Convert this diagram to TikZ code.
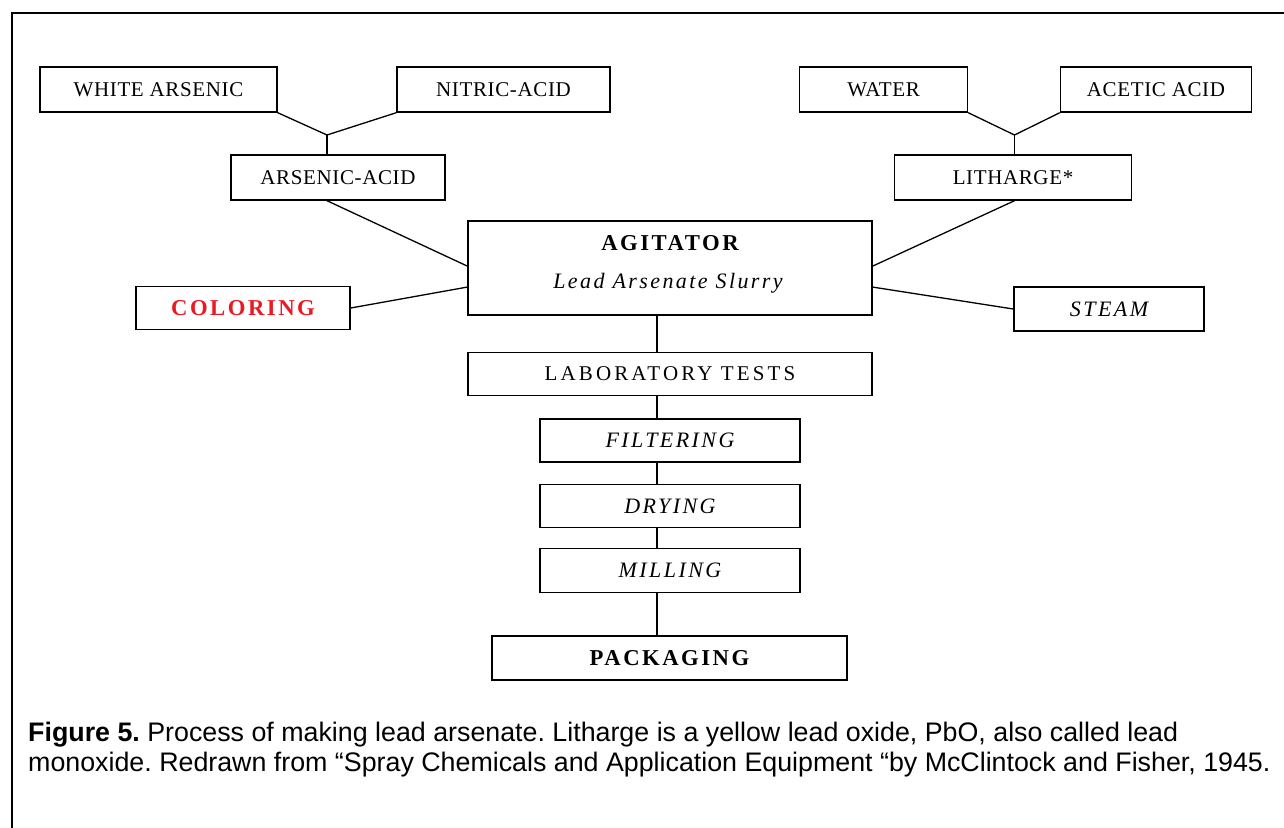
\documentclass[tikz,border=0pt]{standalone}
\usepackage{fontspec}
\setmainfont{Liberation Serif}
\newfontfamily\capfont{Liberation Sans}
\usetikzlibrary{calc}
\definecolor{colred}{RGB}{235,25,35}
\begin{document}
\begin{tikzpicture}[x=1pt,y=-1pt,
  box/.style={draw, line width=1.4pt, inner sep=0pt, anchor=center},
  reg/.style={font=\fontsize{21}{25}\selectfont\addfontfeature{LetterSpace=3}},
  regw/.style={font=\fontsize{21}{25}\selectfont\addfontfeature{LetterSpace=15}},
  bld/.style={font=\fontsize{22.7}{27}\selectfont\bfseries\addfontfeature{LetterSpace=11}},
  ital/.style={font=\fontsize{22}{26}\selectfont\itshape\addfontfeature{LetterSpace=11}},
  conn/.style={line width=1.3pt},
  captxt/.style={anchor=base west, inner sep=0pt, font=\capfont\fontsize{26.8}{30}\selectfont\frenchspacing}]
\useasboundingbox (0,0) rectangle (1284,827);
\fill[white] (0,0) rectangle (1284,827);
\clip (0,0) rectangle (1284,827);
\draw[line width=2.4pt] (12,13) rectangle (1310,860);

% top row
\node[box, reg, minimum width=237pt, minimum height=45pt] (wa) at (158.5,89.5) {WHITE ARSENIC};
\node[box, reg, minimum width=213pt, minimum height=45pt] (na) at (503.5,89.5) {NITRIC-ACID};
\node[box, reg, minimum width=214pt, minimum height=45pt] (aa) at (338,177.5) {ARSENIC-ACID};
\node[box, reg, minimum width=168pt, minimum height=45pt] (wt) at (883.5,89.5) {WATER};
\node[box, reg, minimum width=191pt, minimum height=45pt] (ac) at (1156,89.5) {ACETIC ACID};
\node[box, reg, minimum width=237pt, minimum height=45pt] (li) at (1013,177.5) {LITHARGE*};

% agitator
\node[box, minimum width=404pt, minimum height=94pt] (ag) at (670,268) {};
\node[bld, inner sep=0pt] (agt) at (670,243) {AGITATOR};
\node[ital, inner sep=0pt] (ags) at (668,283) {Lead Arsenate Slurry};

\node[box, bld, text=colred, minimum width=214pt, minimum height=43pt] (co) at (243,308) {COLORING};
\node[box, ital, minimum width=190pt, minimum height=44pt] (st) at (1109,309) {STEAM};

% chain
\node[box, regw, minimum width=404pt, minimum height=43pt] (lt) at (670,374) {LABORATORY TESTS};
\node[box, ital, minimum width=260pt, minimum height=43pt] (fi) at (670,440.5) {FILTERING};
\node[box, ital, minimum width=260pt, minimum height=43pt] (dr) at (670,506) {DRYING};
\node[box, ital, minimum width=260pt, minimum height=44pt] (mi) at (670,570.5) {MILLING};
\node[box, bld, minimum width=355pt, minimum height=44pt] (pk) at (669.5,658) {PACKAGING};

% junctions
\coordinate (j1) at (327,135);
\coordinate (j2) at (1014.5,135);
\coordinate (sp) at (657,0);

\draw[conn] (wa.south east) -- (j1) -- (na.south west);
\draw[conn] (j1) -- (j1 |- aa.north);
\draw[conn] (aa.south -| j1) -- ($(ag.north west)!0.48!(ag.south west)$);
\draw[conn] (co.east) -- ($(ag.north west)!0.70!(ag.south west)$);
\draw[conn] (wt.south east) -- (j2) -- (ac.south west);
\draw[conn] (j2) -- (j2 |- li.north);
\draw[conn] (li.south -| j2) -- ($(ag.north east)!0.48!(ag.south east)$);
\draw[conn] ($(ag.north east)!0.70!(ag.south east)$) -- (st.west);
\draw[conn] (ag.south -| sp) -- (lt.north -| sp);
\draw[conn] (lt.south -| sp) -- (fi.north -| sp);
\draw[conn] (fi.south -| sp) -- (dr.north -| sp);
\draw[conn] (dr.south -| sp) -- (mi.north -| sp);
\draw[conn] (mi.south -| sp) -- (pk.north -| sp);

% caption
\node[captxt] (cap1) at (28,741) {\textbf{Figure 5.} Process of making lead arsenate. Litharge is a yellow lead oxide, PbO, also called lead};
\node[captxt] (cap2) at (28,771) {monoxide. Redrawn from “Spray Chemicals and Application Equipment “by McClintock and Fisher, 1945.};
\end{tikzpicture}
\end{document}
